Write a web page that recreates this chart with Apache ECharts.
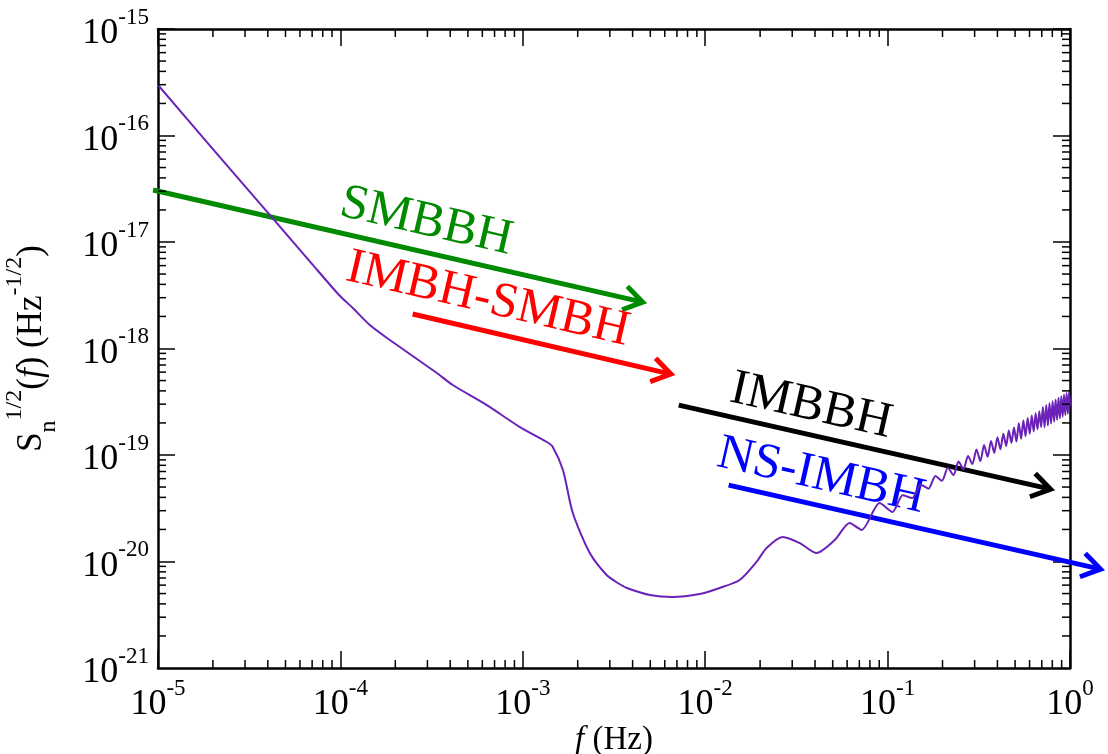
<!DOCTYPE html>
<html><head><meta charset="utf-8">
<script src="https://cdn.jsdelivr.net/npm/echarts@6/dist/echarts.min.js"></script>
<style>html,body{margin:0;padding:0;background:#fff}#c{width:1108px;height:754px}</style>
</head><body><div id="c"></div>
<script>
// ---------------- data ----------------
const noiseFreq = [1e-5, 2e-5, 4e-5, 7e-5, 9.8e-5, 1.17e-4, 1.45e-4, 1.80e-4, 3.38e-4, 4.13e-4, 6.35e-4, 9.64e-4,
  1.355e-3, 1.46e-3, 1.66e-3, 1.88e-3, 2.33e-3, 2.88e-3, 3.32e-3, 3.72e-3, 4.97e-3, 6.64e-3, 9.33e-3,
  1.20e-2, 1.545e-2, 1.91e-2, 2.17e-2, 2.66e-2, 3.30e-2, 4.08e-2, 5.13e-2, 6.19e-2, 7.21e-2, 9.04e-2,
  0.1064, 0.121, 0.1365, 0.152, 0.1675, 0.183, 0.1985, 0.214, 0.2295, 0.245, 0.2605, 0.276, 0.2915,
  0.307, 0.3225, 0.338, 0.3535, 0.369, 0.3845, 0.400, 0.4155, 0.431, 0.4465, 0.462, 0.4775, 0.493,
  0.5085, 0.524, 0.5395, 0.555, 0.5705, 0.586, 0.6015, 0.617, 0.6325, 0.648, 0.6635, 0.679, 0.6945,
  0.710, 0.7255, 0.741, 0.7565, 0.772, 0.7875, 0.803, 0.8185, 0.834, 0.8495, 0.865, 0.8805, 0.896,
  0.9115, 0.927, 0.9425, 0.958, 0.9735, 0.989, 1.0];
const noiseAsd = [2.98e-16, 7.46e-17, 1.89e-17, 6.2e-18, 3.2e-18, 2.40e-18, 1.66e-18, 1.256e-18, 5.89e-19, 4.54e-19, 2.94e-19, 1.83e-19,
  1.324e-19, 1.19e-19, 7.23e-20, 2.85e-20, 1.20e-20, 7.47e-21, 6.28e-21, 5.64e-21, 4.85e-21, 4.64e-21, 4.95e-21,
  5.64e-21, 6.70e-21, 9.9e-21, 1.34e-20, 1.70e-20, 1.49e-20, 1.20e-20, 1.59e-20, 2.30e-20, 1.98e-20, 3.54e-20,
  2.92e-20, 4.19e-20, 3.94e-20, 5.27e-20, 4.83e-20, 6.34e-20, 5.72e-20, 7.59e-20, 6.47e-20, 8.69e-20, 7.34e-20, 9.79e-20, 8.21e-20,
  1.127e-19, 8.78e-20, 1.241e-19, 9.62e-20, 1.355e-19, 1.047e-19, 1.468e-19, 1.131e-19, 1.582e-19, 1.216e-19, 1.696e-19, 1.300e-19, 1.810e-19,
  1.338e-19, 1.992e-19, 1.419e-19, 2.109e-19, 1.501e-19, 2.227e-19, 1.582e-19, 2.345e-19, 1.664e-19, 2.463e-19, 1.746e-19, 2.581e-19, 1.827e-19,
  2.826e-19, 1.821e-19, 2.950e-19, 1.899e-19, 3.073e-19, 1.977e-19, 3.197e-19, 2.055e-19, 3.320e-19, 2.133e-19, 3.443e-19, 2.210e-19, 3.567e-19,
  2.288e-19, 3.690e-19, 2.366e-19, 3.814e-19, 2.444e-19, 3.937e-19, 2.9e-19];

const arrowNames = ['SMBBH', 'IMBH-SMBH', 'IMBBH', 'NS-IMBH'];
const arrowStartFreq = [9.4e-6, 2.49e-4, 7.16e-3, 1.345e-2];
const arrowStartAsd = [3.08e-17, 2.11e-18, 2.94e-19, 5.22e-20];
const arrowEndFreq = [4.77e-3, 6.81e-3, 0.822, 1.545];
const arrowEndAsd = [2.67e-18, 5.64e-19, 4.69e-20, 8.32e-21];
const arrowColors = ['#008a00', '#ff0000', '#000000', '#0000ff'];

const xRange = [1e-5, 1];
const yRange = [1e-21, 1e-15];
const yTickValues = [1e-21, 1e-20, 1e-19, 1e-18, 1e-17, 1e-16, 1e-15];
const minorMantissas = [2, 3, 4, 5, 6, 7, 8, 9];
const xDecades = [-5, -4, -3, -2, -1];
const yDecades = [-21, -20, -19, -18, -17, -16];

// ---------------- layout / style ----------------
const SERIF = '"Liberation Serif", "Times New Roman", serif';
const labelPlace = { t: [0.54, 0.26, 0.336, 0.229], offset: [30, 31, 28, 29] };

// minor ticks: [x, y, flag] flag 0 = x-axis tick, 1 = y-axis tick
const minorTicks = [];
xDecades.forEach(d => minorMantissas.forEach(m => minorTicks.push([Number(m + 'e' + d), 1e-18, 0])));
yDecades.forEach(d => minorMantissas.forEach(m => minorTicks.push([1e-3, Number(m + 'e' + d), 1])));

const tickRich = {
  b: { fontFamily: SERIF, fontSize: 36, fill: '#000', color: '#000', lineHeight: 46, verticalAlign: 'bottom' },
  s: { fontFamily: SERIF, fontSize: 23, fill: '#000', color: '#000', lineHeight: 23, verticalAlign: 'top' }
};
function powLabel(v) {
  const e = Math.round(Math.log10(v));
  return '{b|10}{s|' + e + '}';
}

function baseAxis(type, pos, showLabel, range, splitN) {
  return {
    type: 'log', logBase: 10, position: pos, min: range[0], max: range[1], splitNumber: splitN,
    axisLine: { show: true, onZero: false, lineStyle: { color: '#000', width: 2.5 } },
    axisTick: { show: true, inside: true, length: 17, lineStyle: { color: '#000', width: 1.5 } },
    minorTick: { show: false },
    splitLine: { show: false },
    axisLabel: { show: showLabel, formatter: powLabel, rich: tickRich, margin: 9,
      showMinLabel: true, showMaxLabel: true, hideOverlap: false }
  };
}

const xMain = baseAxis('x', 'bottom', true, xRange, 5);
xMain.name = '{i|f}{m| (Hz)}';
xMain.nameLocation = 'middle';
xMain.nameGap = 56;
xMain.nameMoveOverlap = false;
xMain.nameTextStyle = { rich: {
  i: { fontFamily: SERIF, fontSize: 33, fontStyle: 'italic', color: '#000' },
  m: { fontFamily: SERIF, fontSize: 33, color: '#000' }
}};
const yMain = baseAxis('y', 'left', false, yRange, 6);
yMain.name = '{m|S}{sub|n}{sup|1/2}{m|(}{i|f}{m|) (Hz}{sup|-1/2}{m|)}';
yMain.nameLocation = 'middle';
yMain.nameRotate = 90;
yMain.nameGap = 97;
yMain.nameMoveOverlap = false;
yMain.nameTextStyle = { rich: {
  m: { fontFamily: SERIF, fontSize: 35, color: '#000', lineHeight: 58, verticalAlign: 'middle' },
  i: { fontFamily: SERIF, fontSize: 35, fontStyle: 'italic', color: '#000', lineHeight: 58, verticalAlign: 'middle' },
  sub: { fontFamily: SERIF, fontSize: 24, color: '#000', lineHeight: 24, verticalAlign: 'bottom' },
  sup: { fontFamily: SERIF, fontSize: 24, color: '#000', lineHeight: 24, verticalAlign: 'top' }
}};
const xTop = baseAxis('x', 'top', false, xRange, 5);
const yRight = baseAxis('y', 'right', false, yRange, 6);

function renderMinor(params, api) {
  const cs = params.coordSys;
  const p = api.coord([api.value(0), api.value(1)]);
  const st = { stroke: '#000', lineWidth: 1.5 };
  if (api.value(2) === 0) {
    return { type: 'group', children: [
      { type: 'line', shape: { x1: p[0], y1: cs.y + cs.height, x2: p[0], y2: cs.y + cs.height - 8 }, style: st },
      { type: 'line', shape: { x1: p[0], y1: cs.y, x2: p[0], y2: cs.y + 8 }, style: st }
    ]};
  }
  return { type: 'group', children: [
    { type: 'line', shape: { x1: cs.x, y1: p[1], x2: cs.x + 8, y2: p[1] }, style: st },
    { type: 'line', shape: { x1: cs.x + cs.width, y1: p[1], x2: cs.x + cs.width - 8, y2: p[1] }, style: st }
  ]};
}

// y tick labels (all decades, including the bottom one)
function renderYLabel(params, api) {
  const cs = params.coordSys;
  const v = api.value(1);
  const p = api.coord([api.value(0), v]);
  return { type: 'text', x: cs.x - 9, y: p[1],
    style: { text: powLabel(v), rich: tickRich, align: 'right', verticalAlign: 'middle',
      fontFamily: SERIF, fontSize: 36, fill: '#000' } };
}

function renderArrow(params, api) {
  const i = params.dataIndex;
  const p1 = api.coord([api.value(0), api.value(1)]);
  const p2 = api.coord([api.value(2), api.value(3)]);
  const dx = p2[0] - p1[0], dy = p2[1] - p1[1], L = Math.hypot(dx, dy);
  const ux = dx / L, uy = dy / L;
  const a = 22, th = 33 * Math.PI / 180, c = Math.cos(th), s = Math.sin(th);
  const tip = [p2[0] - 4 * ux, p2[1] - 4 * uy];
  const bx = -ux, by = -uy;
  const h1 = [tip[0] + a * (bx * c - by * s), tip[1] + a * (bx * s + by * c)];
  const h2 = [tip[0] + a * (bx * c + by * s), tip[1] + a * (-bx * s + by * c)];
  const color = arrowColors[i];
  const t = labelPlace.t[i], d = labelPlace.offset[i];
  const cx = p1[0] + t * dx + d * uy, cy = p1[1] + t * dy - d * ux;
  return { type: 'group', children: [
    { type: 'line', shape: { x1: p1[0], y1: p1[1], x2: tip[0], y2: tip[1] }, style: { stroke: color, lineWidth: 5 } },
    { type: 'polyline', shape: { points: [h1, tip, h2] }, style: { stroke: color, lineWidth: 5, fill: null, lineJoin: 'miter' } },
    { type: 'text', x: cx, y: cy, rotation: -Math.atan2(dy, dx),
      style: { text: arrowNames[i], fill: color, fontSize: 50, fontFamily: SERIF, align: 'center', verticalAlign: 'middle' } }
  ]};
}

const chart = echarts.init(document.getElementById('c'), null, { renderer: 'canvas' });
chart.setOption({
  backgroundColor: '#fff',
  animation: false,
  grid: { left: 158, right: 38, top: 29, bottom: 86, outerBoundsMode: 'none' },
  xAxis: [xMain, xTop],
  yAxis: [yMain, yRight],
  series: [
    { type: 'custom', renderItem: renderMinor, data: minorTicks, clip: false, silent: true, z: 5,
      encode: { x: 0, y: 1 }, dimensions: ['x', 'y', 'flag'] },
    { type: 'custom', renderItem: renderYLabel, data: yTickValues.map(v => [xRange[0], v]), clip: false, silent: true, z: 5,
      encode: { x: 0, y: 1 } },
    { type: 'custom', renderItem: renderArrow, clip: false, silent: true, z: 3,
      data: arrowNames.map((n, i) => [arrowStartFreq[i], arrowStartAsd[i], arrowEndFreq[i], arrowEndAsd[i]]),
      encode: { x: [0, 2], y: [1, 3] } },
    { type: 'line', data: noiseFreq.map((f, i) => [f, noiseAsd[i]]), showSymbol: false, symbol: 'none',
      smooth: 0.25, z: 4, lineStyle: { color: '#6a22b8', width: 2 } }
  ]
});
</script></body></html>
